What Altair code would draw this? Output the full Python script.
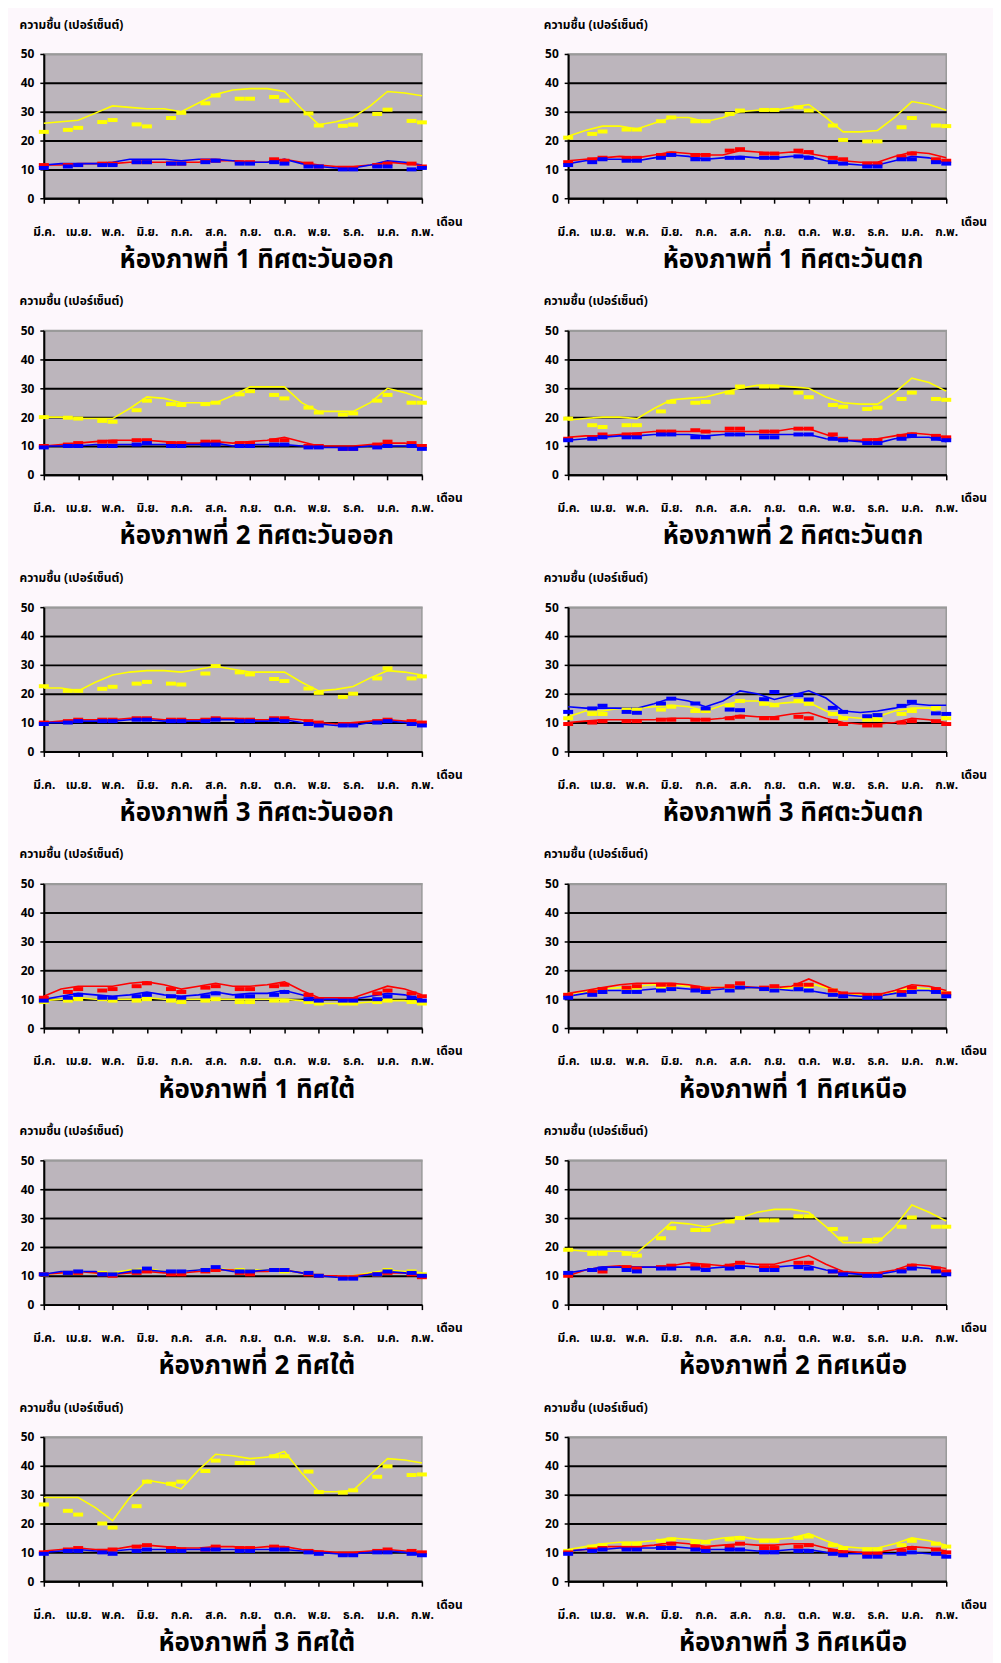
import json
import altair as alt
import pandas as pd

FONT = "Noto Sans Thai, Tahoma, Loma, Garuda, Noto Sans, DejaVu Sans, sans-serif"

MONTHS = ["มี.ค.", "เม.ย.", "พ.ค.", "มิ.ย.", "ก.ค.", "ส.ค.", "ก.ย.", "ต.ค.", "พ.ย.", "ธ.ค.", "ม.ค.", "ก.พ."]
LINE_T = [0, 0.5, 1, 1.5, 2, 2.5, 3, 3.5, 4, 4.5, 5, 5.5, 6, 6.5, 7, 7.5, 8, 8.5, 9, 9.5, 10, 10.5, 11]
MARK_T = [0, 0.7, 1, 1.7, 2, 2.7, 3, 3.7, 4, 4.7, 5, 5.7, 6, 6.7, 7, 7.7, 8, 8.7, 9, 9.7, 10, 10.7, 11]

TITLES = [
    "ห้องภาพที่ 1 ทิศตะวันออก", "ห้องภาพที่ 1 ทิศตะวันตก",
    "ห้องภาพที่ 2 ทิศตะวันออก", "ห้องภาพที่ 2 ทิศตะวันตก",
    "ห้องภาพที่ 3 ทิศตะวันออก", "ห้องภาพที่ 3 ทิศตะวันตก",
    "ห้องภาพที่ 1 ทิศใต้", "ห้องภาพที่ 1 ทิศเหนือ",
    "ห้องภาพที่ 2 ทิศใต้", "ห้องภาพที่ 2 ทิศเหนือ",
    "ห้องภาพที่ 3 ทิศใต้", "ห้องภาพที่ 3 ทิศเหนือ",
]
Y_TITLE = "ความชื้น (เปอร์เซ็นต์)"
X_TITLE = "เดือน"
SERIES = ["yellow", "red", "blue"]
COLORS = ["#ffff00", "#ff0000", "#0000ff"]

# Panel 1: ห้องภาพที่ 1 ทิศตะวันออก
P1_Y_LINE = [26, 26.5, 27, 29.5, 32, 31.5, 31, 31, 30, 33, 36, 37.5, 38, 38, 37, 31, 25.5, 26.5, 28, 32, 37, 36.5, 35.5]
P1_Y_MARK = [23, 23.7, 24.4, 26.4, 27.1, 25.6, 24.9, 27.8, 29.6, 32.9, 35.6, 34.5, 34.5, 35.1, 33.8, 29.4, 25.2, 25.1, 25.5, 29.2, 30.7, 26.8, 26.3]
P1_R_LINE = [11.5, 11.5, 12, 12, 12, 12.5, 12.5, 12.5, 12.5, 12.5, 13, 13, 12.5, 12.5, 13.5, 12.5, 11.5, 11, 11, 11.5, 12.5, 12, 11.5]
P1_R_MARK = [11.5, 11.5, 11.5, 12, 12, 12.5, 12.5, 12, 12, 13, 13, 12.5, 12.5, 13.5, 13, 12, 11, 10.5, 10.5, 11.5, 12, 12, 11]
P1_B_LINE = [11.5, 12, 12, 12, 12.5, 13.5, 13.5, 13.5, 13, 13.5, 13.5, 13, 12.5, 12.5, 13.5, 12, 11, 10.5, 10.5, 11.5, 13, 12.5, 11.5]
P1_B_MARK = [10.5, 11, 11.5, 11.5, 11.5, 12.5, 12.5, 12, 12, 12.5, 13, 12, 12, 12.5, 12, 11, 11, 10, 10, 11, 11, 10, 10.5]

# Panel 2: ห้องภาพที่ 1 ทิศตะวันตก
P2_Y_LINE = [21.5, 23.5, 25, 25, 24, 26, 28, 28, 26.5, 28, 30, 30.5, 30.5, 31.5, 32.5, 28, 23, 23, 23.5, 28, 33.5, 32.5, 30.5]
P2_Y_MARK = [21, 22.3, 23.1, 23.8, 23.8, 26.7, 28, 26.7, 26.7, 29.2, 30.4, 30.6, 30.6, 31.5, 30.4, 25.2, 20.2, 19.7, 19.7, 24.6, 27.8, 25.2, 25]
P2_R_LINE = [13, 13.5, 14, 14.5, 14, 15, 16, 15.5, 15, 15, 16.5, 16, 15.5, 16, 15.5, 14.5, 13, 12.5, 12.5, 14.5, 16, 15.5, 14]
P2_R_MARK = [12.5, 13.5, 14, 14, 14, 15, 15.5, 15, 15, 16.5, 17, 15.5, 15.5, 16.5, 16, 14, 13.5, 12, 12, 14.5, 15.5, 13.5, 13]
P2_B_LINE = [12, 13, 13.5, 13.5, 13, 14, 15, 14.5, 13.5, 14, 14.5, 14, 14, 14.5, 14.5, 13, 12, 11.5, 11.5, 13, 14.5, 14, 12]
P2_B_MARK = [11.5, 12.5, 13.5, 13, 13, 14, 15, 13.5, 13.5, 14, 14, 14, 14, 14.5, 14, 12.5, 12, 11, 11, 13.5, 13.5, 12.5, 12]

# Panel 3: ห้องภาพที่ 2 ทิศตะวันออก
P3_Y_LINE = [20, 20, 19.5, 19.5, 19.5, 23, 27, 26.5, 25, 25, 25, 27.5, 30.5, 30.5, 30.5, 25, 22, 22, 22, 25, 30, 28.5, 26.5]
P3_Y_MARK = [20, 19.8, 19.5, 18.7, 18.4, 22.4, 25.7, 24.5, 24.2, 24.5, 25, 27.9, 29, 27.7, 26.5, 23.3, 21.6, 20.9, 21.3, 25.7, 27.7, 25, 25]
P3_R_LINE = [10, 10.5, 11, 11.5, 12, 12, 12, 11.5, 11, 11, 11.5, 11, 11.5, 12, 13, 11.5, 10, 10, 10, 10.5, 11, 11, 10]
P3_R_MARK = [10, 10.5, 11, 11.5, 11.5, 12, 12, 11, 11, 11.5, 11.5, 11, 11, 12, 12, 10, 10, 9, 9, 10.5, 11.5, 11, 10]
P3_B_LINE = [10, 10, 10, 10.5, 10.5, 10.5, 10.5, 10.5, 10.5, 10.5, 11, 10, 10.5, 10.5, 10.5, 10, 9.5, 9.5, 9.5, 10, 10, 10, 9.5]
P3_B_MARK = [9.5, 10, 10, 10, 10, 10.5, 11, 10, 10, 10.5, 10.5, 10, 10, 10.5, 10.5, 9.5, 9.5, 9, 9, 9.5, 10, 10, 9]

# Panel 4: ห้องภาพที่ 2 ทิศตะวันตก
P4_Y_LINE = [19, 19.5, 20, 20, 19.5, 23, 26, 26.5, 27, 28.5, 30, 31, 31, 30.5, 30, 27, 25, 24.5, 24.5, 28.5, 33.5, 32, 29]
P4_Y_MARK = [19.5, 17.2, 16.6, 17.2, 17.2, 22, 25.3, 25, 25.3, 28.5, 30.6, 30.6, 30.6, 28.5, 26.9, 24.2, 23.6, 22.8, 23.3, 26.3, 28.5, 26.3, 26]
P4_R_LINE = [13, 13.5, 13.5, 14, 14.5, 15, 15, 15, 15, 15, 15, 15, 15, 16, 16, 14, 12, 12, 12.5, 13.5, 14.5, 14, 13]
P4_R_MARK = [12.5, 13, 14, 14, 14, 15, 15, 15.5, 15, 16, 16, 15, 15, 16, 16, 14, 12.5, 12, 12, 13.5, 14, 13.5, 13]
P4_B_LINE = [12, 12.5, 13, 13.5, 13.5, 14, 14, 14, 13.5, 14, 14, 14, 14, 14, 14, 12.5, 12, 11.5, 11, 12.5, 13, 13, 11.5]
P4_B_MARK = [12, 12.5, 13, 13, 13, 14, 14, 13, 13, 14, 14, 13, 13, 14, 14, 12.5, 12, 11, 11, 12.5, 13.5, 12.5, 12]

# Panel 5: ห้องภาพที่ 3 ทิศตะวันออก
P5_Y_LINE = [22, 22, 21, 24, 26.5, 27.5, 28, 28, 27.5, 28.5, 29.5, 28.5, 27.5, 27.5, 27.5, 24, 21, 21.5, 22.5, 25.5, 28, 27.5, 26.5]
P5_Y_MARK = [22.6, 21, 21, 21.7, 22.4, 23.5, 24.1, 23.5, 23.2, 27, 29.6, 27.4, 26.7, 25.1, 24.4, 21.8, 20.3, 18.9, 20, 25.3, 28.8, 25.3, 26]
P5_R_LINE = [10, 10.5, 11, 11, 11, 11.5, 11.5, 11, 11, 11, 11.5, 11.5, 11, 11, 11.5, 11, 10, 9.5, 10, 10.5, 11, 10.5, 10]
P5_R_MARK = [10, 10.5, 11, 11, 11, 11.5, 11.5, 11, 11, 11, 11.5, 11, 11, 11.5, 11.5, 10.5, 10, 9.5, 9.5, 10.5, 11, 10.5, 10]
P5_B_LINE = [10, 10, 10.5, 10.5, 10.5, 11, 11, 10.5, 10.5, 10.5, 11, 11, 10.5, 10.5, 11, 10, 9.5, 9, 9, 10, 10.5, 10, 9.5]
P5_B_MARK = [9.5, 10, 10.5, 10.5, 10.5, 11, 11, 10.5, 10.5, 10.5, 11, 10.5, 10.5, 11, 10.5, 9.5, 9, 9, 9, 10, 10.5, 9.5, 9]

# Panel 6: ห้องภาพที่ 3 ทิศตะวันตก
P6_Y_LINE = [12, 14, 14, 15, 15, 15.5, 16, 15.5, 14, 16, 17.5, 17.5, 16.5, 17, 17, 14, 12, 11.5, 12, 14, 15, 15, 12]
P6_Y_MARK = [11.5, 13, 13, 14.5, 14.5, 14.5, 15.5, 14, 14, 16, 17.5, 16.5, 16, 17.5, 16.5, 13, 11.5, 11, 11, 13, 14, 15, 11.5]
P6_R_LINE = [10, 10.5, 11, 11, 11, 11, 11.5, 11.5, 11, 11.5, 12.5, 12, 12, 13, 13.5, 11.5, 10, 9.5, 9.5, 10, 11.5, 11, 10]
P6_R_MARK = [9.5, 10, 10.5, 10.5, 10.5, 11, 11, 11, 11, 11.5, 12, 11.5, 11.5, 12, 11.5, 10.5, 9.5, 9, 9, 10, 10.5, 10.5, 9.5]
P6_B_LINE = [15.5, 15, 15, 15, 15, 16.5, 18.5, 17.5, 15.5, 17.5, 21, 20, 18, 19.5, 21, 18.5, 14, 13.5, 14, 15, 16.5, 16, 16]
P6_B_MARK = [13.7, 14.9, 15.8, 13.7, 13.4, 16.6, 18.3, 16.6, 14.9, 14.5, 14.3, 18.1, 20.6, 19.5, 18, 15.1, 13.7, 12.2, 12.6, 15.8, 17.2, 13.2, 13]

# Panel 7: ห้องภาพที่ 1 ทิศใต้
P7_Y_LINE = [9.5, 10, 10.5, 10, 10, 10, 10.5, 10, 10, 10, 10, 10, 10, 10, 10, 9.5, 8.5, 8.5, 8.5, 9, 9.5, 9.5, 8.5]
P7_Y_MARK = [9, 9.5, 10, 10, 9.5, 9.5, 10, 9.5, 9, 9.5, 10, 9, 9, 9.5, 9.5, 9, 8.5, 8.5, 8.5, 9, 9.5, 9, 8.5]
P7_R_LINE = [11, 13.5, 14.5, 14.5, 14.5, 15.5, 16, 15, 13.5, 14.5, 15.5, 14.5, 14.5, 15, 16, 13, 10.5, 10.5, 10.5, 12.5, 14.5, 13.5, 11.5]
P7_R_MARK = [10.5, 12.5, 13.5, 13, 13.5, 14.5, 15.5, 13.5, 12.5, 14, 14.5, 13.5, 13.5, 14.5, 15, 11.5, 10, 10, 10, 12, 13, 12, 11]
P7_B_LINE = [10, 11, 12, 11.5, 11, 11.5, 12.5, 11.5, 11, 11.5, 12.5, 11.5, 12, 12, 13, 11.5, 10, 10, 10, 11, 12, 11.5, 10]
P7_B_MARK = [9.5, 10.5, 11.5, 10.5, 10.5, 11, 11.5, 11, 10.5, 11, 12, 11, 11, 11.5, 12.5, 10, 9.5, 9.5, 9.5, 10, 11, 10.5, 9.5]

# Panel 8: ห้องภาพที่ 1 ทิศเหนือ
P8_Y_LINE = [12, 12.5, 13.5, 14, 14.5, 15, 15, 14.5, 14, 14, 14, 14, 13.5, 14, 15.5, 14, 12, 11.5, 11, 12.5, 14, 13.5, 12.5]
P8_Y_MARK = [11.5, 12.5, 12.5, 13.5, 14, 14, 14, 13.5, 13.5, 13.5, 14, 13.5, 13.5, 13.5, 14.5, 13, 11.5, 11, 11, 12, 13.5, 13, 12]
P8_R_LINE = [12, 13, 14, 15, 15.5, 15.5, 15.5, 15, 14, 14, 14.5, 14, 14, 14.5, 17, 14.5, 12, 12, 11.5, 13, 15, 14.5, 13]
P8_R_MARK = [11.5, 12.5, 13.5, 14, 14.5, 15, 15, 14, 13.5, 14.5, 15.5, 14, 14.5, 15, 15, 13, 12, 11.5, 11.5, 12.5, 14, 13.5, 12]
P8_B_LINE = [11, 12, 13, 13, 13, 13.5, 14, 13.5, 13, 13.5, 14, 14, 13.5, 13, 13, 12, 11.5, 11, 11, 12, 13, 13, 11.5]
P8_B_MARK = [10.5, 11.5, 12.5, 12.5, 12.5, 13, 13.5, 13, 12.5, 13, 14, 13.5, 13, 13.5, 13, 11.5, 11, 10.5, 10.5, 11.5, 12.5, 12.5, 11]

# Panel 9: ห้องภาพที่ 2 ทิศใต้
P9_Y_LINE = [10.5, 11, 11.5, 11, 11, 12, 12.5, 11.5, 11.5, 12, 12.5, 12, 12, 12, 12, 11, 10, 10, 10, 11, 12, 11.5, 11]
P9_Y_MARK = [10.5, 11, 11, 11, 10.5, 11.5, 12, 11, 11, 12, 12, 12, 11.5, 12, 11.5, 11, 10, 9.5, 9.5, 10.5, 12, 11.5, 10.5]
P9_R_LINE = [10.5, 11, 11.5, 11, 10.5, 11, 11.5, 11, 11, 11.5, 12, 12, 11.5, 11.5, 12, 11, 10, 10, 10, 10.5, 11, 11, 10]
P9_R_MARK = [10.5, 11, 11, 10.5, 10, 11, 11.5, 10.5, 10.5, 11.5, 12, 11, 10.5, 12, 12, 10.5, 10, 9.5, 9.5, 10.5, 11, 10.5, 9.5]
P9_B_LINE = [10.5, 11.5, 11.5, 11.5, 10.5, 11.5, 12, 11.5, 11.5, 12, 12.5, 11.5, 11.5, 12, 12, 11, 10, 9.5, 9.5, 10.5, 11.5, 11, 10]
P9_B_MARK = [10.5, 11, 11.5, 10.5, 10.5, 11.5, 12.5, 11.5, 11.5, 12, 13, 11.5, 11.5, 12, 12, 11, 10, 9, 9, 10.5, 11.5, 11, 10]

# Panel 10: ห้องภาพที่ 2 ทิศเหนือ
P10_Y_LINE = [19, 18.5, 18.5, 18.5, 18, 23, 28.5, 28, 27, 28.5, 30, 32, 33, 33, 32, 27, 21.5, 21.5, 21.5, 27, 34.5, 32, 29]
P10_Y_MARK = [19, 17.6, 17.6, 17.6, 17, 23, 26.5, 25.9, 25.9, 28.8, 30, 29.2, 29.2, 30.6, 30.6, 26.2, 22.9, 22.4, 22.6, 27, 30.2, 27, 27]
P10_R_LINE = [10, 12, 13, 13.5, 13, 13, 13.5, 14.5, 14, 13.5, 14.5, 14, 14, 15.5, 17, 14, 11.5, 11, 11, 12, 14, 13.5, 12.5]
P10_R_MARK = [10, 12, 11.5, 13, 12.5, 13, 13.5, 13.5, 13.5, 13.5, 14.5, 13, 13, 14.5, 14.5, 11.5, 11, 10.5, 10.5, 12, 13.5, 12.5, 11.5]
P10_B_LINE = [11, 12, 13, 13, 13, 13, 13, 13, 12.5, 13, 13.5, 13, 13, 13.5, 13.5, 12, 11, 10.5, 10.5, 11.5, 13, 12.5, 11]
P10_B_MARK = [11, 12, 12.5, 12, 11.5, 12.5, 12.5, 12.5, 12, 12.5, 13, 12, 12, 13, 12.5, 11.5, 10.5, 10, 10, 11.5, 12.5, 11.5, 10.5]

# Panel 11: ห้องภาพที่ 3 ทิศใต้
P11_Y_LINE = [29, 29, 29, 25.5, 21, 29, 35, 34, 32, 38.5, 44, 43.5, 42.5, 43, 45, 37.5, 31, 31, 31.5, 37, 42.5, 42, 41]
P11_Y_MARK = [26.6, 24.4, 23.1, 20, 18.6, 26, 34.5, 33.8, 34.5, 38.2, 41.8, 41, 41, 43.3, 43.3, 38, 30.9, 30.7, 31.5, 36.2, 39.8, 36.8, 37]
P11_R_LINE = [10.5, 11, 11.5, 11, 11, 12, 12.5, 12, 11.5, 11.5, 12, 12, 11.5, 12, 12, 11, 10.5, 10, 10, 10.5, 11, 10.5, 10]
P11_R_MARK = [10, 11, 11.5, 10.5, 11, 12, 12.5, 11.5, 11, 11, 12, 11.5, 11.5, 12, 11.5, 10.5, 10, 9.5, 9.5, 10.5, 11, 10.5, 10]
P11_B_LINE = [10, 10.5, 11, 10.5, 10.5, 11, 11, 11, 11, 11, 11, 11, 11, 11, 11, 10.5, 10, 9.5, 9.5, 10, 10.5, 10, 9]
P11_B_MARK = [9.5, 10.5, 10.5, 10, 9.5, 10.5, 11, 10.5, 10.5, 11, 11, 10.5, 10.5, 11, 11, 10, 9.5, 9, 9, 10, 10, 9.5, 9]

# Panel 12: ห้องภาพที่ 3 ทิศเหนือ
P12_Y_LINE = [11, 12, 13, 13.5, 13.5, 14, 15, 14.5, 14, 15, 15.5, 14.5, 14.5, 15, 16.5, 14, 12, 11.5, 11.5, 13, 15, 14, 12.5]
P12_Y_MARK = [10.5, 12, 12.5, 13, 13, 14, 14.5, 13.5, 13.5, 14.5, 15, 14, 14, 15, 15.5, 12.5, 11.5, 11, 11, 12.5, 14, 13, 12]
P12_R_LINE = [10.5, 11, 12, 12, 12, 12.5, 13.5, 13, 12, 12.5, 13, 12.5, 12.5, 13, 13, 11.5, 10.5, 10, 10, 11, 12, 11.5, 10.5]
P12_R_MARK = [10, 11, 11.5, 11.5, 11.5, 12, 13, 12, 11.5, 12, 13, 11.5, 11.5, 12, 12.5, 10.5, 10, 9.5, 9.5, 10.5, 11.5, 11, 10]
P12_B_LINE = [10.5, 11, 11, 11.5, 11.5, 11.5, 12, 11.5, 11, 11, 11, 10.5, 10.5, 11, 11, 10, 9.5, 9.5, 9.5, 9.5, 10, 9.5, 9]
P12_B_MARK = [9.5, 10.5, 11, 11, 11, 11.5, 11.5, 11, 10.5, 11, 11, 10, 10, 10.5, 10.5, 9.5, 9, 8.5, 8.5, 9.5, 10, 9.5, 8.5]

PANELS = [
    (P1_Y_LINE, P1_Y_MARK, P1_R_LINE, P1_R_MARK, P1_B_LINE, P1_B_MARK),
    (P2_Y_LINE, P2_Y_MARK, P2_R_LINE, P2_R_MARK, P2_B_LINE, P2_B_MARK),
    (P3_Y_LINE, P3_Y_MARK, P3_R_LINE, P3_R_MARK, P3_B_LINE, P3_B_MARK),
    (P4_Y_LINE, P4_Y_MARK, P4_R_LINE, P4_R_MARK, P4_B_LINE, P4_B_MARK),
    (P5_Y_LINE, P5_Y_MARK, P5_R_LINE, P5_R_MARK, P5_B_LINE, P5_B_MARK),
    (P6_Y_LINE, P6_Y_MARK, P6_R_LINE, P6_R_MARK, P6_B_LINE, P6_B_MARK),
    (P7_Y_LINE, P7_Y_MARK, P7_R_LINE, P7_R_MARK, P7_B_LINE, P7_B_MARK),
    (P8_Y_LINE, P8_Y_MARK, P8_R_LINE, P8_R_MARK, P8_B_LINE, P8_B_MARK),
    (P9_Y_LINE, P9_Y_MARK, P9_R_LINE, P9_R_MARK, P9_B_LINE, P9_B_MARK),
    (P10_Y_LINE, P10_Y_MARK, P10_R_LINE, P10_R_MARK, P10_B_LINE, P10_B_MARK),
    (P11_Y_LINE, P11_Y_MARK, P11_R_LINE, P11_R_MARK, P11_B_LINE, P11_B_MARK),
    (P12_Y_LINE, P12_Y_MARK, P12_R_LINE, P12_R_MARK, P12_B_LINE, P12_B_MARK),
]

LABEL_EXPR = json.dumps(MONTHS, ensure_ascii=False) + "[datum.value]"


def panel(i):
    arrs = PANELS[i]
    rows = []
    for s, name in enumerate(SERIES):
        ln, mk = arrs[2 * s], arrs[2 * s + 1]
        for t, v in zip(LINE_T, ln):
            rows.append({"t": t, "v": v, "s": name, "k": "line"})
        for t, v in zip(MARK_T, mk):
            rows.append({"t": t, "v": v, "s": name, "k": "mark"})
    df = pd.DataFrame(rows)

    x = alt.X(
        "t:Q",
        scale=alt.Scale(domain=[0, 11], nice=False, zero=False),
        axis=alt.Axis(
            values=list(range(12)), labelExpr=LABEL_EXPR, title=X_TITLE,
            grid=False, domainColor="#000000", domainWidth=2,
            tickColor="#000000", tickWidth=1.5, tickSize=5,
            labelPadding=23, labelFontSize=12, labelFontWeight="bold",
            labelColor="#000000", labelFont=FONT, labelFlush=False,
            labelOverlap=False, labelBound=False,
            titleFont=FONT, titleFontSize=12, titleFontWeight="bold",
            titleColor="#000000", titleX=394, titleY=23, titleAlign="left",
            titleBaseline="middle",
        ),
    )
    y = alt.Y(
        "v:Q",
        scale=alt.Scale(domain=[0, 50], nice=False),
        axis=alt.Axis(
            values=[0, 10, 20, 30, 40, 50], title=Y_TITLE, format="d",
            grid=True,
            gridColor={"condition": {"test": "datum.value === 50", "value": "#9a9a9a"}, "value": "#000000"},
            gridWidth=2, domainColor="#000000", domainWidth=2,
            tickColor="#000000", tickWidth=1.5, tickSize=4,
            labelPadding=6, labelFontSize=12, labelFontWeight="bold",
            labelColor="#000000", labelFont=FONT,
            titleFont=FONT, titleFontSize=12, titleFontWeight="bold",
            titleColor="#000000", titleAngle=0, titleX=-25, titleY=-30,
            titleAlign="left", titleBaseline="middle",
        ),
    )
    color = alt.Color("s:N", scale=alt.Scale(domain=SERIES, range=COLORS), legend=None)

    base = alt.Chart(df).encode(x=x, y=y, color=color)
    lines = base.transform_filter("datum.k == 'line'").mark_line(strokeWidth=1.6)
    marks = base.transform_filter("datum.k == 'mark'").mark_tick(
        orient="horizontal", size=10, thickness=4, opacity=1
    )
    dx = 24 if i % 2 == 0 else 36
    return alt.layer(lines, marks).properties(
        width=380, height=145,
        title=alt.TitleParams(
            TITLES[i], orient="bottom", anchor="middle", fontSize=26,
            fontWeight="bold", font=FONT, color="#000000", offset=10, dx=dx,
        ),
    )


chart = alt.concat(
    *[panel(i) for i in range(12)],
    columns=2,
    spacing={"row": 133, "column": 147},
    bounds="flush",
).properties(
    background="#fdf7fc",
    padding={"left": 10, "top": 5, "right": 5, "bottom": 5},
).configure_view(
    fill="#bcb5bc", stroke="#9a9a9a", strokeWidth=1.5
)

chart.save("out.html", embed_options={"renderer": "svg", "actions": False})
